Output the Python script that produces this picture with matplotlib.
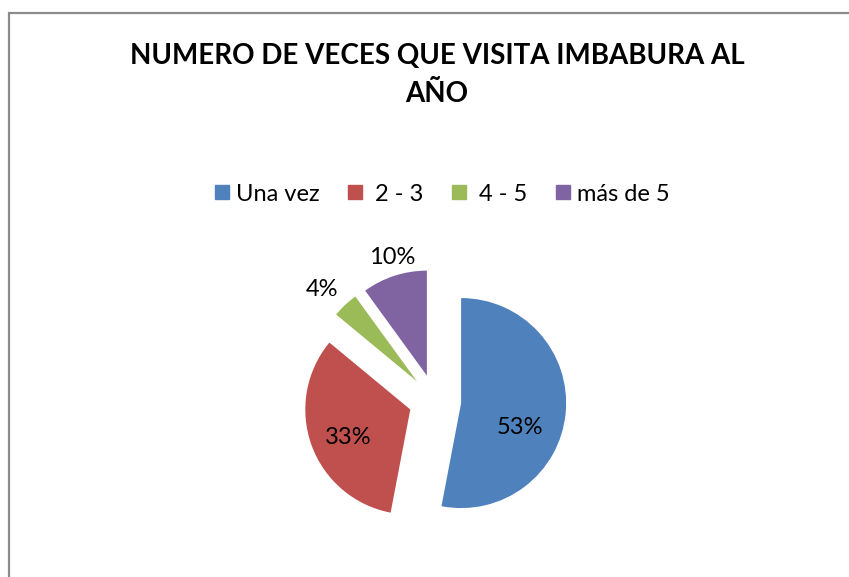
import matplotlib.pyplot as plt
from matplotlib.patches import Rectangle
from matplotlib.lines import Line2D

plt.rcParams['font.family'] = ['Lato', 'DejaVu Sans']

# data
categories = ['Una vez', ' 2 - 3', ' 4 - 5', 'más de 5']
percentages = [53, 33, 4, 10]
colors = ['#4F81BD', '#C0504D', '#9BBB59', '#8064A2']
title = 'NUMERO DE VECES QUE VISITA IMBABURA AL\nAÑO'

W, H = 849, 577
fig = plt.figure(figsize=(W / 100, H / 100), dpi=100)
ax = fig.add_axes([0, 0, 1, 1])

# outer chart border (only left and top visible in the original)
fig.patches.append(Rectangle((9 / W, -0.1), 1.2, 1 - 13 / H + 0.1,
                             transform=fig.transFigure, fill=False,
                             edgecolor='#8c8c8c', linewidth=1.6))

radius = 105
wedges, texts, autotexts = ax.pie(
    percentages, colors=colors, startangle=90, counterclock=False,
    explode=[0.25 * radius] * len(percentages), center=(435, H - 400.6), radius=radius,
    autopct='%1.0f%%', textprops={'fontsize': 17, 'color': 'black'},
    wedgeprops={'linewidth': 0})

# label placement similar to the original "best fit"
label_pos = [(520, 428), (348, 437), (322, 289), (392, 257)]
for t, (x, y) in zip(autotexts, label_pos):
    t.set_position((x, H - y))
    t.set_ha('center')
    t.set_va('center')

ax.set_xlim(0, W)
ax.set_ylim(0, H)
ax.set_aspect('equal')
ax.axis('off')

fig.text(437 / W, 1 - 75 / H, title, ha='center', va='center',
         fontsize=20, fontweight='bold', linespacing=1.56)

handles = [Line2D([], [], marker='s', linestyle='', markersize=10,
                  markerfacecolor=c, markeredgecolor=c) for c in colors]
fig.legend(handles, categories, loc='center', bbox_to_anchor=(440 / W, 1 - 194 / H),
           ncol=4, frameon=False, fontsize=17, handletextpad=0.1,
           columnspacing=1.0, handlelength=1.0)

fig.savefig('out.png', dpi=100)
